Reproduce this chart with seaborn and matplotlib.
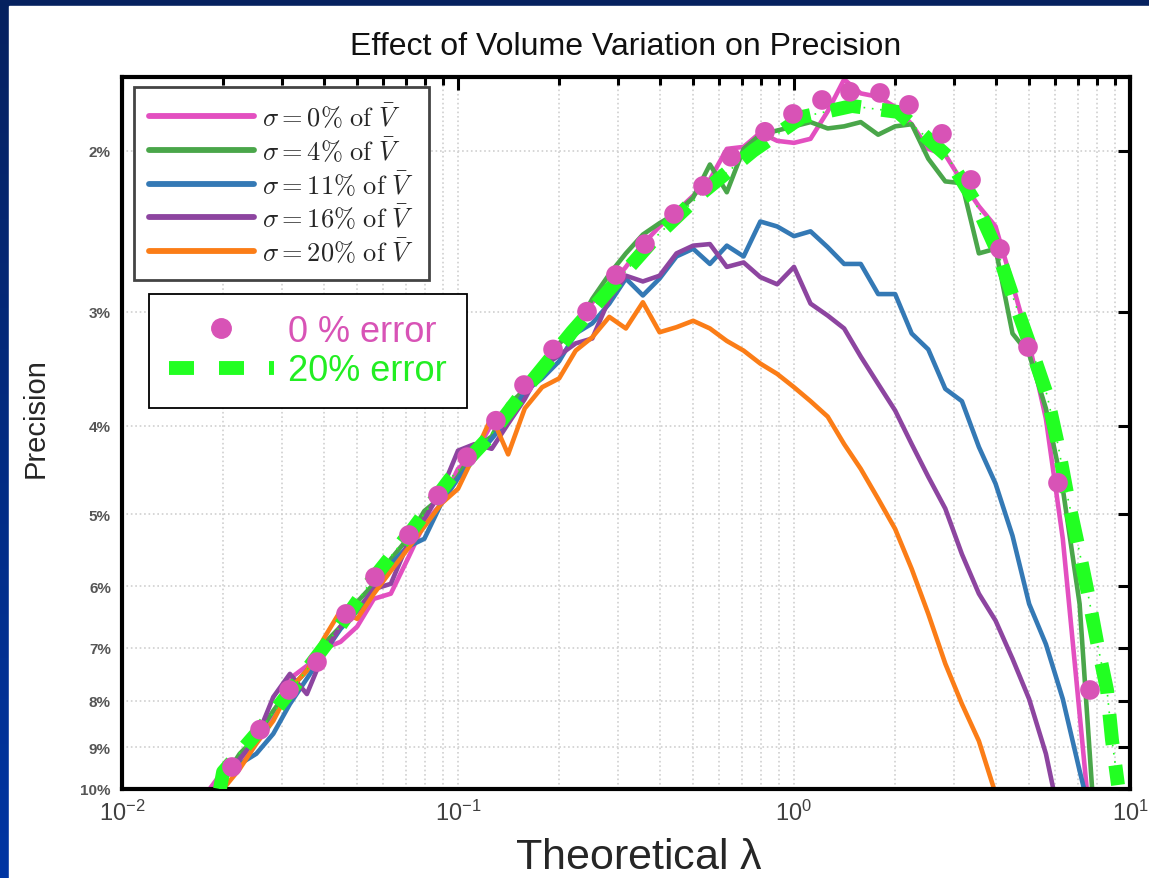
import numpy as np
import pandas as pd
import matplotlib
matplotlib.use("Agg")
import matplotlib.pyplot as plt
import seaborn as sns
from matplotlib.lines import Line2D
from matplotlib.patches import Rectangle
from matplotlib.font_manager import FontProperties
from matplotlib.colors import LinearSegmentedColormap
from matplotlib.ticker import FixedLocator, NullLocator, LogLocator, FuncFormatter, NullFormatter

# ---------------- data ----------------
lam_grid = [0.0178, 0.0200, 0.0224, 0.0251, 0.0282, 0.0316, 0.0355, 0.0398, 0.0447,
            0.0501, 0.0562, 0.0631, 0.0708, 0.0794, 0.0891, 0.100, 0.112, 0.126,
            0.141, 0.158, 0.178, 0.200, 0.224, 0.251, 0.282, 0.316, 0.355, 0.398,
            0.447, 0.501, 0.562, 0.631, 0.708, 0.794, 0.891, 1.00, 1.12, 1.26,
            1.41, 1.58, 1.78, 2.00, 2.24, 2.51, 2.82, 3.16, 3.55, 3.98, 4.47,
            5.01, 5.62, 6.31, 7.08, 7.94, 8.91]

sigma0 = [10.12, 9.55, 9.46, 8.81, 8.27, 7.57, 7.33, 7.02, 6.90, 6.64, 6.19, 6.11, 5.60,
          5.12, 4.87, 4.46, 4.30, 3.98, 3.91, 3.60, 3.42, 3.25, 3.13, 2.93, 2.82, 2.68,
          2.53, 2.42, 2.33, 2.24, 2.15, 1.99, 1.98, 1.91, 1.95, 1.96, 1.94, 1.81, 1.67,
          1.73, 1.745, 1.79, 1.87, 1.99, 2.02, 2.16, 2.30, 2.42, 2.80, 3.25, 3.93, 5.32,
          8.27, 12.9]
sigma4 = [10.38, 9.75, 9.15, 8.77, 8.21, 7.77, 7.42, 6.94, 6.64, 6.24, 5.96, 5.60, 5.32,
          4.96, 4.79, 4.55, 4.24, 4.11, 3.79, 3.66, 3.54, 3.25, 3.13, 2.905, 2.73, 2.59,
          2.47, 2.40, 2.34, 2.25, 2.07, 2.22, 1.99, 1.92, 1.90, 1.88, 1.86, 1.89, 1.88,
          1.86, 1.92, 1.88, 1.87, 2.04, 2.16, 2.17, 2.59, 2.56, 3.17, 3.34, 3.83, 4.69,
          6.27, 11.7]
sigma11 = [10.51, 9.70, 9.39, 9.15, 8.70, 8.07, 7.57, 7.11, 6.68, 6.38, 6.04, 5.67, 5.43,
           5.32, 4.87, 4.57, 4.35, 4.135, 3.93, 3.67, 3.55, 3.40, 3.17, 3.09, 2.94, 2.76,
           2.88, 2.76, 2.61, 2.56, 2.66, 2.54, 2.61, 2.39, 2.42, 2.48, 2.45, 2.55, 2.66,
           2.66, 2.87, 2.87, 3.17, 3.30, 3.645, 3.76, 4.22, 4.63, 5.28, 6.27, 6.94, 7.97,
           9.55, 11.34]
sigma16 = [10.38, 9.80, 9.27, 8.81, 7.93, 7.48, 7.87, 7.11, 6.64, 6.38, 6.04, 5.96, 5.39,
           5.06, 4.72, 4.26, 4.19, 4.24, 3.98, 3.74, 3.45, 3.35, 3.25, 3.21, 2.905, 2.74,
           2.78, 2.74, 2.59, 2.54, 2.53, 2.68, 2.65, 2.75, 2.80, 2.68, 2.94, 3.03, 3.13,
           3.36, 3.60, 3.85, 4.19, 4.55, 4.93, 5.53, 6.11, 6.54, 7.20, 7.97, 9.15, 11.2]
sigma20 = [10.64, 10.0, 9.505, 8.92, 8.42, 7.77, 7.42, 6.85, 6.38, 6.51, 6.11, 5.77, 5.46,
           5.16, 4.87, 4.69, 4.30, 3.91, 4.30, 3.83, 3.63, 3.55, 3.31, 3.20, 3.04, 3.13,
           2.93, 3.16, 3.12, 3.07, 3.13, 3.23, 3.31, 3.42, 3.51, 3.63, 3.76, 3.91, 4.19,
           4.46, 4.81, 5.19, 5.74, 6.43, 7.29, 8.07, 8.86, 10.12, 11.63]

err0_lam = [0.02125, 0.02575, 0.03141, 0.03805, 0.04642, 0.05662, 0.07145, 0.08719,
            0.1064, 0.1297, 0.1572, 0.1918, 0.2421, 0.2951, 0.3601, 0.4394, 0.5361,
            0.6494, 0.8197, 0.9931, 1.2115, 1.468, 1.803, 2.199, 2.757, 3.364, 4.103,
            4.971, 6.105, 7.60]
err0_prec = [9.46, 8.61, 7.79, 7.26, 6.43, 5.86, 5.27, 4.77, 4.33, 3.95, 3.61, 3.30, 3.00,
             2.735, 2.53, 2.345, 2.185, 2.03, 1.906, 1.822, 1.759, 1.723, 1.728, 1.781,
             1.916, 2.152, 2.561, 3.28, 4.62, 7.79]

err20_lam = [0.01957, 0.01999, 0.02628, 0.03387, 0.04394, 0.05585, 0.07346, 0.09467,
             0.1245, 0.1615, 0.2184, 0.2853, 0.3910, 0.5286, 0.7551, 1.056, 1.488, 2.040,
             2.853, 3.458, 4.047, 4.546, 5.109, 5.662, 6.105, 6.540, 7.002, 7.499, 7.976,
             8.542, 8.839, 9.211]
err20_prec = [10.0, 9.58, 8.527, 7.573, 6.676, 5.886, 5.188, 4.575, 4.105, 3.618, 3.157,
              2.825, 2.478, 2.229, 2.0, 1.836, 1.786, 1.813, 2.025, 2.275, 2.587, 2.934,
              3.313, 3.701, 4.198, 4.811, 5.402, 6.112, 6.901, 7.788, 8.835, 9.90]

series_labels = [r"$\sigma = 0\%\ \mathrm{of}\ \bar{V}$", r"$\sigma = 4\%\ \mathrm{of}\ \bar{V}$",
                 r"$\sigma = 11\%\ \mathrm{of}\ \bar{V}$", r"$\sigma = 16\%\ \mathrm{of}\ \bar{V}$",
                 r"$\sigma = 20\%\ \mathrm{of}\ \bar{V}$"]
series_values = [sigma0, sigma4, sigma11, sigma16, sigma20]
series_colors = ["#e34fc0", "#4aa64a", "#3479b5", "#8d45a0", "#fb7d17"]

error_labels = ["0 % error", "20% error"]

yticks = [2, 3, 4, 5, 6, 7, 8, 9, 10]
ytick_labels = ["2%", "3%", "4%", "5%", "6%", "7%", "8%", "9%", "10%"]

# ---------------- style ----------------
sns.set_style("white")
plt.rcParams["font.family"] = ["Liberation Sans", "DejaVu Sans"]
plt.rcParams["mathtext.fontset"] = "custom"
plt.rcParams["mathtext.rm"] = "Liberation Sans"
plt.rcParams["mathtext.it"] = "Liberation Sans:italic"
plt.rcParams["mathtext.bf"] = "Liberation Sans:bold"

W, H = 1149, 879
fig = plt.figure(figsize=(W / 100, H / 100), dpi=100)

# slide background
bg = fig.add_axes([0, 0, 1, 1])
bg.set_zorder(-5)
bg.axis("off")
cmap = LinearSegmentedColormap.from_list("bgc", ["#0035a3", "#06215f"])
grad = np.linspace(0, 1, 256).reshape(-1, 1)
bg.imshow(grad, extent=[0, 1, 0, 1], aspect="auto", cmap=cmap, origin="lower")
bg.add_patch(Rectangle((9 / W, 0), 1, 1 - 7 / H, color="white", transform=bg.transAxes))
bg.set_xlim(0, 1)
bg.set_ylim(0, 1)

ax = fig.add_axes([122 / W, 1 - 790 / H, (1130 - 122) / W, (790 - 78) / H])

rows = []
for lab, vals in zip(series_labels, series_values):
    for lv, pv in zip(lam_grid[:len(vals)], vals):
        rows.append({"lam": lv, "prec": pv, "series": lab})
df = pd.DataFrame(rows)

sns.lineplot(data=df, x="lam", y="prec", hue="series", hue_order=series_labels,
             palette=dict(zip(series_labels, series_colors)), sort=False, estimator=None,
             linewidth=3.3, legend=False, ax=ax)

# 20% error dashed curve
ax.plot(err20_lam, err20_prec, color="#22ff22", lw=1.2, ls=(0, (1, 4)), zorder=4)
ax.plot(err20_lam, err20_prec, color="#22ff22", lw=10, dashes=(2.2, 1.5),
        dash_capstyle="butt", zorder=5)
# 0% error circles
sns.scatterplot(x=err0_lam, y=err0_prec, color="#d853b6", s=200, edgecolor="none",
                zorder=6, ax=ax, legend=False)

ax.set_xscale("log")
ax.set_yscale("log")
ax.set_xlim(0.01, 10)
ax.set_ylim(10, 1.66)

ax.yaxis.set_major_locator(FixedLocator(yticks))
ax.yaxis.set_minor_locator(NullLocator())
ax.set_yticklabels(ytick_labels)
ax.xaxis.set_major_locator(LogLocator(base=10, numticks=10))
ax.xaxis.set_minor_locator(LogLocator(base=10, subs=np.arange(2, 10), numticks=20))
ax.xaxis.set_minor_formatter(NullFormatter())
ax.xaxis.set_major_formatter(FuncFormatter(lambda v, p: r"$\mathregular{10^{%d}}$" % round(np.log10(v))))

ax.grid(True, which="major", color="#d0d0d0", ls=":", lw=1.2)
ax.grid(True, which="minor", axis="x", color="#d0d0d0", ls=":", lw=1.2)
ax.set_axisbelow(True)

for s in ax.spines.values():
    s.set_linewidth(3)
    s.set_color("black")
ax.tick_params(which="both", direction="in", top=True, right=True, width=2.2, color="black")
ax.tick_params(which="major", length=9)
ax.tick_params(which="minor", length=6)
ax.tick_params(axis="y", labelsize=11, labelcolor="#555555", pad=8)
ax.tick_params(axis="x", labelsize=17, labelcolor="#404040", pad=8)
for t in ax.get_yticklabels():
    t.set_fontweight("bold")

ax.set_xlabel(r"Theoretical $\mathregular{\lambda}$", fontsize=31)
ax.xaxis.set_label_coords(0.513, -0.068)
ax.set_ylabel("Precision", fontsize=21)
ax.yaxis.set_label_coords(-0.072, 0.522)

fig.text(626 / W, 1 - 47 / H, "Effect of Volume Variation on Precision", fontsize=23,
         ha="center", va="center", color="#111111")

# legend 1 : series
h1 = [Line2D([0], [0], color=c, lw=4.2) for c in series_colors]
leg1 = ax.legend(h1, series_labels, loc="upper left", bbox_to_anchor=(0.0119, 0.986),
                 borderaxespad=0, prop=FontProperties(size=19, math_fontfamily="cm"),
                 handlelength=4.0, handletextpad=0.3, labelspacing=0.18, borderpad=0.55,
                 fancybox=False, framealpha=1, edgecolor="#444444")
leg1.get_frame().set_linewidth(2)
ax.add_artist(leg1)

# legend 2 : error markers
h2 = [Line2D([0], [0], color="#d853b6", marker="o", ls="none", markersize=14),
      Line2D([0], [0], color="#22ff22", lw=10, dashes=(1.8, 1.8), dash_capstyle="butt")]
leg2 = ax.legend(h2, error_labels, loc="upper left",
                 bbox_to_anchor=(0.0268, 0.695), borderaxespad=0, fontsize=26,
                 handlelength=2.9, handletextpad=0.4, labelspacing=0.12, borderpad=0.55,
                 fancybox=False, framealpha=1, edgecolor="black", numpoints=1)
leg2.get_frame().set_linewidth(1.3)
leg2.get_texts()[0].set_color("#d853b6")
leg2.get_texts()[1].set_color("#22ee22")

fig.savefig("out.png", dpi=100)
